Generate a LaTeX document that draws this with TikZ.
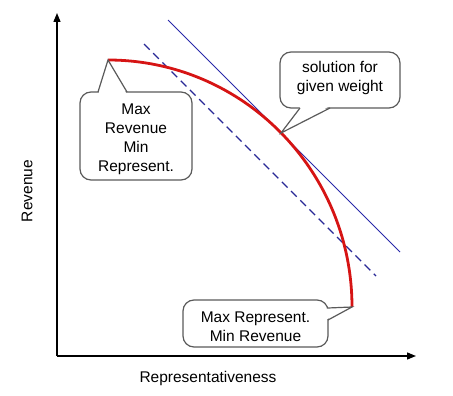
\documentclass[tikz,border=0pt]{standalone}
\usepackage{fontspec}
\setmainfont{Liberation Sans}
\usetikzlibrary{arrows.meta}
\definecolor{curvered}{RGB}{214,20,20}
\definecolor{lineblue}{RGB}{40,40,170}
\definecolor{dashblue}{RGB}{40,40,150}
\definecolor{boxgray}{RGB}{90,90,90}
\tikzset{
  axis/.style={line width=1.3pt, black, -{Triangle[length=9pt,width=7pt]}},
  callout/.style={draw=boxgray, line width=1.2pt, fill=white, rounded corners=11pt, inner sep=0pt, align=center, font=\fontsize{15.5}{19}\selectfont},
  pointer/.style={draw=boxgray, line width=1.2pt, line join=miter},
  frontier/.style={draw=curvered, line width=2.8pt},
  tangent/.style={draw=lineblue, line width=0.8pt},
  shifted/.style={draw=dashblue, line width=1.4pt, dash pattern=on 8pt off 5pt},
  lbl/.style={font=\fontsize{15.5}{17}\selectfont, inner sep=0pt}
}
\begin{document}
\begin{tikzpicture}[x=1pt,y=-1pt]
\useasboundingbox (0,0) rectangle (453,396);
% axes
\coordinate (O) at (57,356);
\coordinate (ytop) at (57,13);
\coordinate (xend) at (416,356);
\draw[axis] (O) -- (ytop);
\draw[axis] (O) -- (xend);
\node[lbl, rotate=90] (ylab) at (27,191) {Revenue};
\node[lbl] (xlab) at (208,378) {Representativeness};
% lines
\coordinate (t1) at (168,20);
\coordinate (t2) at (400,252);
\coordinate (d1) at (144,44);
\coordinate (d2) at (376,276);
\draw[tangent] (t1) -- (t2);
\draw[shifted] (d1) -- (d2);
% frontier
\coordinate (tipA) at (108,60);
\coordinate (tipB) at (281,133);
\coordinate (tipC) at (352,307);
\draw[frontier] (tipA) .. controls (242.8,60) and (352,170.6) .. (tipC);
% callout 1
\node[callout, minimum width=112pt, minimum height=88pt] (cA) at (136,136) {\raisebox{-6.5pt}[0pt][0pt]{\parbox{108pt}{\centering Max\\Revenue\\Min\\Represent.}}};
\fill[white] (98.6,93.5) -- (tipA) -- (126.4,93.5) -- cycle;
\draw[pointer] (98,92) -- (tipA) -- (127,92);
% callout 2
\node[callout, minimum width=120pt, minimum height=56pt] (cB) at (340,80) {\raisebox{-1.5pt}[0pt][0pt]{\parbox{116pt}{\centering solution for\\given weight}}};
\fill[white] (300.5,106.5) -- (tipB) -- (329,106.5) -- cycle;
\draw[pointer] (300,108) -- (tipB) -- (330,108);
% callout 3
\node[callout, minimum width=145pt, minimum height=47pt] (cC) at (255.5,323.5) {\raisebox{-6.5pt}[0pt][0pt]{\parbox{141pt}{\centering Max Represent.\\Min Revenue}}};
\fill[white] (326.5,308.6) -- (tipC) -- (326.5,319.4) -- cycle;
\draw[pointer] (328,308) -- (tipC) -- (328,320);
\end{tikzpicture}
\end{document}
